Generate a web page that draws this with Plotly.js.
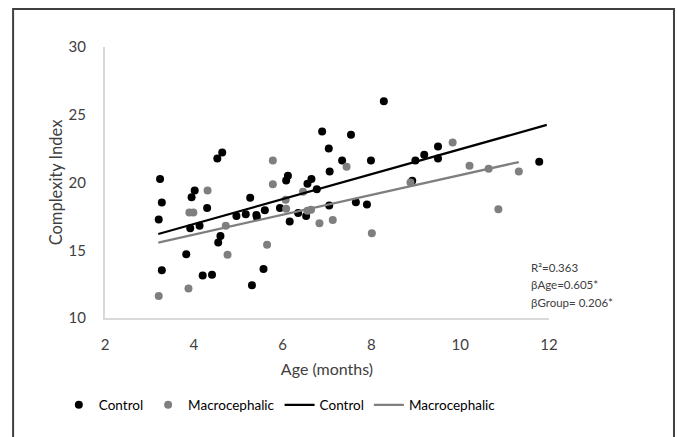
<!DOCTYPE html>
<html>
<head>
<meta charset="utf-8">
<script src="https://cdn.plot.ly/plotly-3.0.1.min.js"></script>
<style>html,body{margin:0;padding:0;background:#fff;}#chart{width:677px;height:437px;}</style>
</head>
<body>
<div id="chart"></div>
<script>
// Control group (age in months, complexity index)
var controlAge = [4.64,4.53,3.24,4.02,3.95,3.28,5.27,4.30,3.21,4.96,5.17,5.41,5.42,3.92,4.13,4.60,4.55,3.83,3.28,4.20,4.41,5.31,5.57,6.16,
  8.28,6.89,7.54,7.04,7.34,7.99,7.06,6.12,6.08,6.65,6.56,6.77,5.60,5.94,7.05,7.65,7.90,6.35,6.53,9.50,9.19,8.99,9.50,8.92,11.78];
var controlCI = [22.22,21.77,20.25,19.41,18.92,18.52,18.87,18.11,17.27,17.52,17.66,17.61,17.46,16.63,16.80,16.06,15.57,14.71,13.53,13.13,13.20,12.42,13.62,17.12,
  25.99,23.77,23.53,22.51,21.63,21.63,20.81,20.50,20.15,20.25,19.90,19.51,17.96,18.11,18.30,18.55,18.37,17.74,17.52,22.66,22.05,21.63,21.77,20.13,21.53];

// Macrocephalic group
var macroAge = [4.31,3.90,3.99,4.72,4.76,3.88,3.21,5.65,6.83,7.13,8.01,5.78,7.44,5.78,6.46,6.07,6.08,6.56,6.64,9.83,10.21,10.64,11.32,10.86,8.88];
var macroCI = [19.41,17.78,17.78,16.80,14.66,12.17,11.63,15.40,17.00,17.24,16.26,21.63,21.16,19.88,19.31,18.72,18.06,17.91,17.98,22.96,21.23,21.01,20.81,18.03,20.00];

// Fitted trend lines (end points)
var controlFitAge = [3.2, 11.95];
var controlFitCI = [16.2, 24.25];
var macroFitAge = [3.2, 11.32];
var macroFitCI = [15.57, 21.51];

var xTicks = [2,4,6,8,10,12];
var yTicks = [10,15,20,25,30];
var statsText = ["R\u00b2=0.363", "\u03b2Age=0.605*", "\u03b2Group= 0.206*"];
var seriesNames = ["Control", "Macrocephalic", "Control", "Macrocephalic"];

var FONT = "Lato, 'Open Sans', sans-serif";
var traces = [
  {x: controlAge, y: controlCI, mode: "markers", type: "scatter", name: seriesNames[0],
   marker: {color: "#000000", size: 8}},
  {x: macroAge, y: macroCI, mode: "markers", type: "scatter", name: seriesNames[1],
   marker: {color: "#7f7f7f", size: 8}},
  {x: controlFitAge, y: controlFitCI, mode: "lines", type: "scatter", name: seriesNames[2],
   line: {color: "#000000", width: 2.25}},
  {x: macroFitAge, y: macroFitCI, mode: "lines", type: "scatter", name: seriesNames[3],
   line: {color: "#7f7f7f", width: 2.25}}
];

var layout = {
  width: 677, height: 437,
  margin: {l: 105, r: 128, t: 47, b: 119, pad: 0},
  paper_bgcolor: "#ffffff", plot_bgcolor: "#ffffff",
  font: {family: FONT, size: 14, color: "#404040"},
  showlegend: true,
  legend: {orientation: "h", x: -0.104, y: -0.321, xanchor: "left", yanchor: "middle",
           font: {family: FONT, size: 13.5, color: "#000000"}, itemgap: 12, tracegroupgap: 0},
  xaxis: {range: [2, 12], tickvals: xTicks, ticktext: xTicks.map(String), showgrid: false, zeroline: false,
          showline: true, linecolor: "#d9d9d9", linewidth: 2, ticks: "", ticklabelstandoff: 12,
          tickfont: {family: FONT, size: 15, color: "#404040"},
          title: {text: "Age (months)", font: {family: FONT, size: 16, color: "#404040"}, standoff: 12}},
  yaxis: {range: [10, 30], tickvals: yTicks, ticktext: yTicks.map(String), showgrid: false, zeroline: false,
          showline: true, linecolor: "#d9d9d9", linewidth: 2, ticks: "", ticklabelstandoff: 14,
          tickfont: {family: FONT, size: 15, color: "#404040"},
          title: {text: "Complexity Index", font: {family: FONT, size: 16.5, color: "#404040"}, standoff: 2}},
  annotations: statsText.map(function (t, i) {
    return {xref: "paper", yref: "paper", x: 0.955, y: (318 - 267 - i * 17.5) / 271, xanchor: "left", yanchor: "middle",
            text: t, showarrow: false, font: {family: FONT, size: 11.5, color: "#404040"}};
  }),
  shapes: [{type: "rect", xref: "paper", yref: "paper", x0: -0.207, x1: 1.2815, y0: -0.47, y1: 1.14,
            line: {color: "#404040", width: 2}, fillcolor: "rgba(0,0,0,0)", layer: "above"}]
};

Plotly.newPlot("chart", traces, layout, {displayModeBar: false, staticPlot: true});
</script>
</body>
</html>
